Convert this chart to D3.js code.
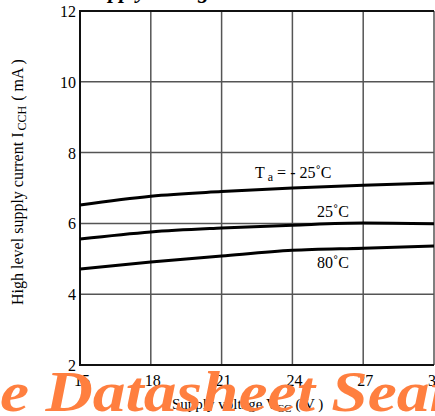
<!DOCTYPE html>
<html>
<head>
<meta charset="utf-8">
<script src="https://cdn.jsdelivr.net/npm/d3@7"></script>
<style>
  body { margin: 0; background: #fff; }
  svg { display: block; }
</style>
</head>
<body>
<div id="chart"></div>
<script>
// data
const voltages = [15, 18, 21, 24, 27, 30];
const currentM25 = [6.52, 6.77, 6.9, 7.0, 7.08, 7.14];
const current25 = [5.56, 5.76, 5.87, 5.95, 6.01, 5.99];
const current80 = [4.71, 4.91, 5.08, 5.24, 5.3, 5.36];
const xTicks = [15, 18, 21, 24, 27, 30];
const yTicks = [2, 4, 6, 8, 10, 12];

const width = 435, height = 416;
const serif = "'Liberation Serif', 'DejaVu Serif', serif";

const svg = d3.select("#chart").append("svg")
  .attr("width", width)
  .attr("height", height);

const x = d3.scaleLinear().domain([15, 30]).range([80, 434]);
const y = d3.scaleLinear().domain([2, 12]).range([365, 11]);

// title, mostly cut off at the top
svg.append("text")
  .attr("x", 84).attr("y", -2)
  .style("font-family", serif)
  .style("font-weight", "bold")
  .style("font-style", "italic")
  .style("font-size", "22px")
  .text("Supply Voltage");

// grid
svg.append("g").selectAll("line")
  .data(xTicks.slice(1))
  .join("line")
  .attr("x1", d => x(d)).attr("x2", d => x(d))
  .attr("y1", y(12)).attr("y2", y(2))
  .attr("stroke", "#555").attr("stroke-width", 1.5);

svg.append("g").selectAll("line")
  .data(yTicks.slice(1, -1))
  .join("line")
  .attr("x1", x(15)).attr("x2", x(30))
  .attr("y1", d => y(d)).attr("y2", d => y(d))
  .attr("stroke", "#555").attr("stroke-width", 1.5);

// frame (left, top, bottom)
svg.append("path")
  .attr("d", `M${x(30)},${y(12)}H${x(15)}V${y(2)}H${x(30)}`)
  .attr("fill", "none")
  .attr("stroke", "#111")
  .attr("stroke-width", 2);

// tick labels
svg.append("g").selectAll("text")
  .data(yTicks)
  .join("text")
  .attr("x", 76)
  .attr("y", d => y(d) + 6)
  .attr("text-anchor", "end")
  .style("font-family", serif)
  .style("font-size", "16px")
  .text(d => d);

svg.append("g").selectAll("text")
  .data(xTicks)
  .join("text")
  .attr("x", d => x(d) + 2)
  .attr("y", 386)
  .attr("text-anchor", "middle")
  .style("font-family", serif)
  .style("font-size", "16px")
  .text(d => d);

// curves
const line = d3.line()
  .x((d, i) => x(voltages[i]))
  .y(d => y(d))
  .curve(d3.curveMonotoneX);

[currentM25, current25, current80].forEach(s => {
  svg.append("path")
    .attr("d", line(s))
    .attr("fill", "none")
    .attr("stroke", "#000")
    .attr("stroke-width", 3);
});

// curve labels
const lab = svg.append("g")
  .style("font-family", serif)
  .style("font-size", "16px");

const t1 = lab.append("text").attr("x", 255).attr("y", 178);
t1.append("tspan").text("T");
t1.append("tspan").attr("dx", 3).attr("dy", 3).style("font-size", "12px").text("a");
t1.append("tspan").attr("dx", 4).attr("dy", -3).text("= - 25˚C");

lab.append("text").attr("x", 317).attr("y", 217).text("25˚C");
lab.append("text").attr("x", 317).attr("y", 268).text("80˚C");

// axis titles
const yt = svg.append("text")
  .attr("transform", "translate(23,182) rotate(-90)")
  .attr("text-anchor", "middle")
  .style("font-family", serif)
  .style("font-size", "16px");
yt.append("tspan").text("High level supply current I");
yt.append("tspan").attr("dx", 2).attr("dy", 3).style("font-size", "12px").text("CCH");
yt.append("tspan").attr("dx", 5).attr("dy", -3).text("( mA )");

const xt = svg.append("text")
  .attr("x", 172).attr("y", 409)
  .style("font-family", serif)
  .style("font-size", "15px");
xt.append("tspan").text("Supply voltage V");
xt.append("tspan").attr("dy", 3).style("font-size", "11px").text("CC");
xt.append("tspan").attr("dx", 4).attr("dy", -3).text("( V )");

// watermark
svg.append("text")
  .attr("transform", "translate(0,411) scale(1.13,1)")
  .style("font-family", serif)
  .style("font-weight", "bold")
  .style("font-style", "italic")
  .style("font-size", "58px")
  .style("fill", "#ff7f3f")
  .text("e Datasheet Search");
</script>
</body>
</html>
